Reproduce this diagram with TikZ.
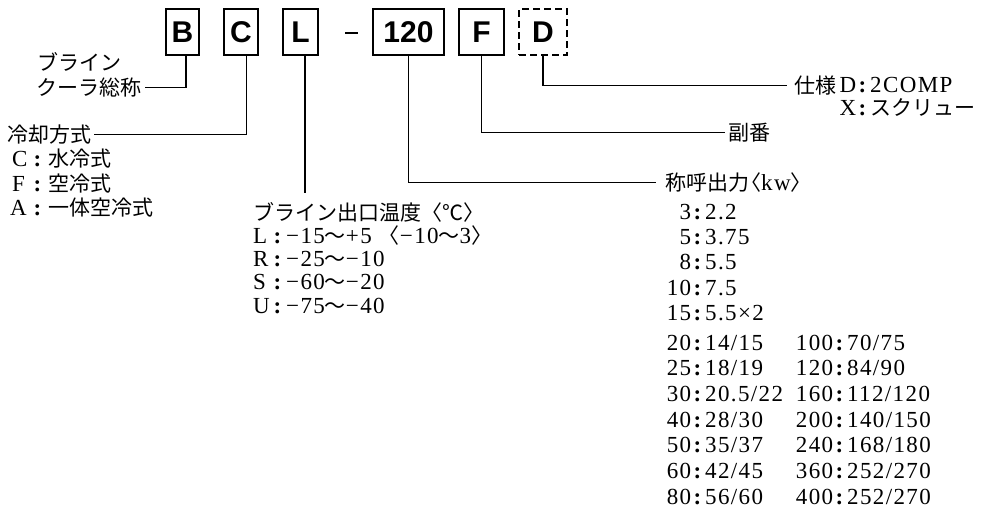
\documentclass[tikz,border=0pt]{standalone}
\usepackage{fontspec}
\setmainfont{Liberation Serif}[LetterSpace=6]
\newfontfamily\jpf{Noto Sans CJK JP}
\newcommand\jp{\jpf\fontsize{21}{24}\selectfont}
\newfontfamily\boxfont{Liberation Sans}
\newcommand\J[1]{{\jp #1}}
\newcommand\cl[1]{\makebox[#1]{\textbf{:}}}
\newcommand\prow[3]{\makebox[#1][r]{#2}\cl{14pt}#3}
\begin{document}
\begin{tikzpicture}[x=1pt,y=-1pt,
  lbl/.style={anchor=base west, inner sep=0pt, font=\fontsize{23}{26}\selectfont},
  code/.style={draw, line width=1.4pt, inner sep=0pt, minimum height=46pt,
    font=\boxfont\bfseries\fontsize{30}{30}\selectfont},
  conn/.style={line width=1.2pt}]
\useasboundingbox (0,0) rectangle (989,512);

% code boxes
\node[code, minimum width=33pt] (B) at (182.5,32) {B};
\node[code, minimum width=34pt] (C) at (241,32) {C};
\node[code, minimum width=35pt] (L) at (300.5,32) {L};
\node[fill, inner sep=0pt, minimum width=13pt, minimum height=2.8pt] (dash) at (351.5,33) {};
\node[code, minimum width=71pt] (T) at (408.5,32) {120};
\node[code, minimum width=45pt] (F) at (481.5,32) {F};
\node[code, dash pattern=on 7pt off 4pt, minimum width=48pt] (D) at (543,32) {D};

% left labels
\node[lbl] (n1) at (37,63+7.5) {\J{ブライン}};
\node[lbl] (n2) at (36,88+7.5) {\J{クーラ総称}};
\node[lbl] (n3) at (7,135+7.5) {\J{冷却方式}};
\node[lbl] (n4) at (12,159+7.5) {\makebox[16pt][l]{C}\cl{20pt}\J{水冷式}};
\node[lbl] (n5) at (12,184+7.5) {\makebox[16pt][l]{F}\cl{20pt}\J{空冷式}};
\node[lbl] (n6) at (10,208+7.5) {\makebox[18pt][l]{A}\cl{20pt}\J{一体空冷式}};

% brine temperature
\node[lbl] (t0) at (253,213+7.5) {\J{ブライン出口温度〈℃〉}};
\node[lbl] (t1) at (253,236+7.5) {\makebox[17pt][l]{L}\cl{16pt}−15\J{〜}+5 \J{〈}−10\J{〜}3\J{〉}};
\node[lbl] (t2) at (253,259+7.5) {\makebox[17pt][l]{R}\cl{16pt}−25\J{〜}−10};
\node[lbl] (t3) at (253,282+7.5) {\makebox[17pt][l]{S}\cl{16pt}−60\J{〜}−20};
\node[lbl] (t4) at (253,306+7.5) {\makebox[17pt][l]{U}\cl{16pt}−75\J{〜}−40};

% spec and sub number
\node[lbl] (d0) at (794,86+7.5) {\J{仕様}};
\node[lbl] (d1) at (840,85+7.5) {\makebox[16pt][r]{D}\cl{14pt}2COMP};
\node[lbl] (d2) at (840,108+7.5) {\makebox[16pt][r]{X}\cl{14pt}\J{スクリュー}};
\node[lbl] (s0) at (728,133+7.5) {\J{副番}};

% nominal output
\node[lbl] (p0) at (665,183+7.5) {\J{称呼出力}\hspace{-9pt}\J{〈}kw\J{〉}};
\node[lbl] (r3)  at (665,212+7.5) {\prow{26pt}{3}{2.2}};
\node[lbl] (r5)  at (665,237+7.5) {\prow{26pt}{5}{3.75}};
\node[lbl] (r8)  at (665,262+7.5) {\prow{26pt}{8}{5.5}};
\node[lbl] (r10) at (665,288+7.5) {\prow{26pt}{10}{7.5}};
\node[lbl] (r15) at (665,313+7.5) {\prow{26pt}{15}{5.5×2}};
\node[lbl] (r20) at (665,343+7.5) {\prow{26pt}{20}{14/15}};
\node[lbl] (r25) at (665,368+7.5) {\prow{26pt}{25}{18/19}};
\node[lbl] (r30) at (665,394+7.5) {\prow{26pt}{30}{20.5/22}};
\node[lbl] (r40) at (665,420+7.5) {\prow{26pt}{40}{28/30}};
\node[lbl] (r50) at (665,445+7.5) {\prow{26pt}{50}{35/37}};
\node[lbl] (r60) at (665,471+7.5) {\prow{26pt}{60}{42/45}};
\node[lbl] (r80) at (665,497+7.5) {\prow{26pt}{80}{56/60}};
\node[lbl] (q100) at (794,343+7.5) {\prow{39pt}{100}{70/75}};
\node[lbl] (q120) at (794,368+7.5) {\prow{39pt}{120}{84/90}};
\node[lbl] (q160) at (794,394+7.5) {\prow{39pt}{160}{112/120}};
\node[lbl] (q200) at (794,420+7.5) {\prow{39pt}{200}{140/150}};
\node[lbl] (q240) at (794,445+7.5) {\prow{39pt}{240}{168/180}};
\node[lbl] (q360) at (794,471+7.5) {\prow{39pt}{360}{252/270}};
\node[lbl] (q400) at (794,497+7.5) {\prow{39pt}{400}{252/270}};

% connectors
\draw[conn] ([xshift=3.5pt]B.south) |- ([xshift=4pt]n2.east);
\draw[conn] ([xshift=5.5pt]C.south) |- ([xshift=3pt]n3.east);
\coordinate (Lend) at (305,193);
\draw[conn] ([xshift=4.5pt]L.south) -- (Lend);
\draw[conn] (T.south) |- ([xshift=-9pt]p0.west);
\draw[conn] (F.south) |- ([xshift=-3pt]s0.west);
\draw[conn] (D.south) |- ([xshift=-7pt]d0.west);
\end{tikzpicture}
\end{document}
